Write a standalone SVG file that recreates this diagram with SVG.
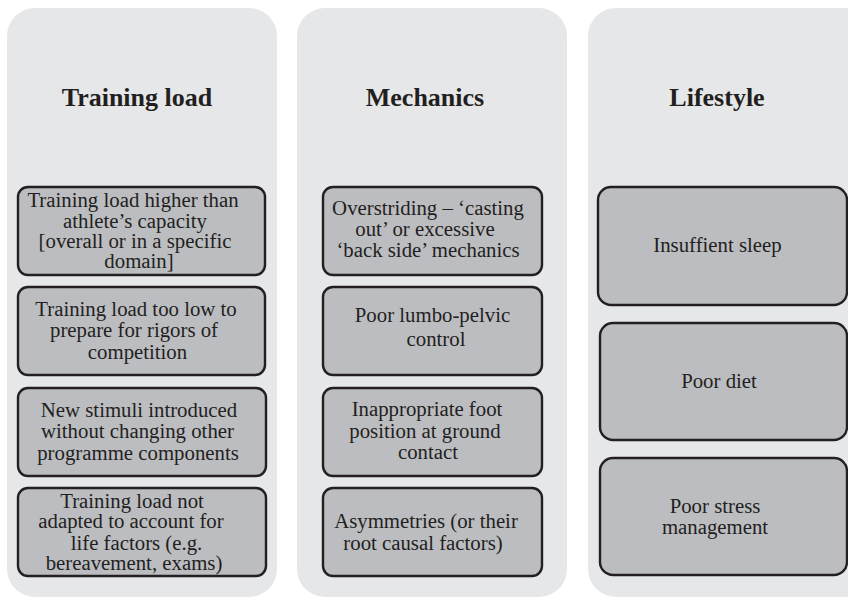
<svg xmlns="http://www.w3.org/2000/svg" width="848" height="599" viewBox="0 0 848 599">
  <style>
    .panel { fill: #e6e7e8; }
    .box { fill: #bcbdc0; stroke: #231f20; stroke-width: 2.4; }
    .title { font-family: "Liberation Serif", "Times New Roman", serif; font-weight: bold; font-size: 26px; fill: #231f20; text-anchor: middle; }
    .lbl { font-family: "Liberation Serif", "Times New Roman", serif; font-size: 20.8px; fill: #231f20; text-anchor: middle; }
  </style>

  <!-- Column backgrounds -->
  <g id="panels">
    <rect class="panel" x="7" y="8" width="270" height="589" rx="28" ry="28"/>
    <rect class="panel" x="297" y="8" width="270" height="589" rx="28" ry="28"/>
    <rect class="panel" x="588" y="8" width="290" height="589" rx="28" ry="28"/>
  </g>

  <!-- Column headings -->
  <g id="headings">
    <text class="title" x="137" y="106">Training load</text>
    <text class="title" x="425" y="106">Mechanics</text>
    <text class="title" x="717" y="106">Lifestyle</text>
  </g>

  <!-- Training load factors -->
  <g id="tl1">
    <rect class="box" x="18" y="187" width="247" height="88" rx="10"/>
    <text class="lbl" x="133" y="207">Training load higher than</text>
    <text class="lbl" x="135" y="228">athlete’s capacity</text>
    <text class="lbl" x="135" y="248">[overall or in a specific</text>
    <text class="lbl" x="139" y="268">domain]</text>
  </g>
  <g id="tl2">
    <rect class="box" x="18" y="287" width="247" height="88" rx="10"/>
    <text class="lbl" x="136" y="316">Training load too low to</text>
    <text class="lbl" x="134" y="337">prepare for rigors of</text>
    <text class="lbl" x="137.5" y="359">competition</text>
  </g>
  <g id="tl3">
    <rect class="box" x="18" y="388" width="248" height="88" rx="10"/>
    <text class="lbl" x="139" y="417">New stimuli introduced</text>
    <text class="lbl" x="137.5" y="438">without changing other</text>
    <text class="lbl" x="138" y="460">programme components</text>
  </g>
  <g id="tl4">
    <rect class="box" x="18" y="488" width="248" height="88" rx="10"/>
    <text class="lbl" x="132" y="508">Training load not</text>
    <text class="lbl" x="131" y="528">adapted to account for</text>
    <text class="lbl" x="136.5" y="550">life factors (e.g.</text>
    <text class="lbl" x="134" y="570">bereavement, exams)</text>
  </g>

  <!-- Mechanics factors -->
  <g id="me1">
    <rect class="box" x="323" y="187" width="219" height="88" rx="10"/>
    <text class="lbl" x="428" y="215">Overstriding – ‘casting</text>
    <text class="lbl" x="425" y="236">out’ or excessive</text>
    <text class="lbl" x="428" y="257">‘back side’ mechanics</text>
  </g>
  <g id="me2">
    <rect class="box" x="323" y="287" width="219" height="88" rx="10"/>
    <text class="lbl" x="432.5" y="322">Poor lumbo-pelvic</text>
    <text class="lbl" x="436" y="346">control</text>
  </g>
  <g id="me3">
    <rect class="box" x="323" y="388" width="219" height="88" rx="10"/>
    <text class="lbl" x="427" y="416">Inappropriate foot</text>
    <text class="lbl" x="425" y="438">position at ground</text>
    <text class="lbl" x="428" y="459">contact</text>
  </g>
  <g id="me4">
    <rect class="box" x="323" y="488" width="219" height="88" rx="10"/>
    <text class="lbl" x="426" y="528">Asymmetries (or their</text>
    <text class="lbl" x="423" y="550">root causal factors)</text>
  </g>

  <!-- Lifestyle factors -->
  <g id="li1">
    <rect class="box" x="598" y="187" width="249" height="118" rx="13"/>
    <text class="lbl" x="717.5" y="252">Insuffient sleep</text>
  </g>
  <g id="li2">
    <rect class="box" x="600" y="323" width="247" height="117" rx="13"/>
    <text class="lbl" x="719" y="388">Poor diet</text>
  </g>
  <g id="li3">
    <rect class="box" x="600" y="458" width="247" height="117" rx="13"/>
    <text class="lbl" x="715" y="513">Poor stress</text>
    <text class="lbl" x="715" y="534">management</text>
  </g>

  <!-- No connectors in this diagram -->
  <g id="connectors"/>
</svg>
